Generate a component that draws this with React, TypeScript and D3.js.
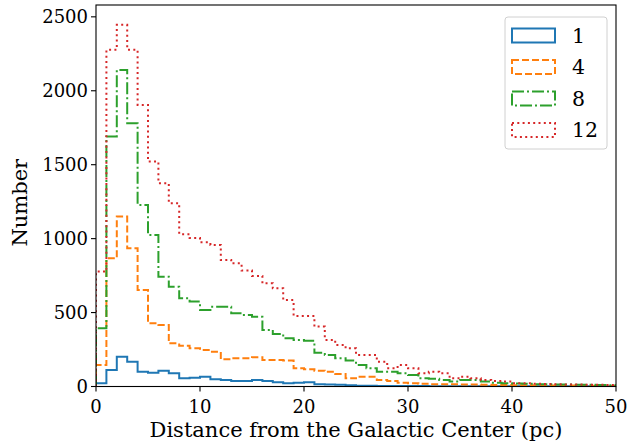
import { useMemo } from "react";
import * as d3 from "d3";

// Bin counts (50 unit-wide bins, 0–50 pc).
const binEdges = d3.range(0, 51);
const seriesNames = ["1", "4", "8", "12"];
const counts1 = [22, 112, 202, 168, 100, 93, 107, 89, 55, 60, 66, 49, 44, 37, 38, 44, 37, 28, 22, 25, 28, 15, 13, 11, 9, 5, 5, 4, 4, 3, 3, 3, 2, 2, 2, 2, 2, 1, 1, 1, 1, 1, 1, 1, 1, 1, 0, 1, 0, 0];
const counts4 = [145, 867, 1149, 935, 653, 428, 416, 292, 275, 258, 247, 235, 184, 191, 191, 198, 179, 179, 175, 123, 116, 107, 100, 85, 55, 66, 66, 44, 37, 26, 22, 19, 16, 16, 15, 14, 13, 12, 10, 10, 9, 8, 7, 7, 6, 6, 5, 5, 4, 4];
const counts8 = [394, 1690, 2141, 1781, 1228, 1025, 743, 675, 597, 574, 518, 540, 540, 495, 484, 472, 382, 355, 326, 315, 310, 229, 213, 191, 175, 145, 123, 100, 100, 89, 78, 55, 52, 44, 33, 44, 44, 33, 26, 22, 20, 18, 16, 15, 14, 13, 12, 11, 10, 9];
const counts12 = [777, 2277, 2446, 2277, 1904, 1521, 1375, 1240, 1030, 1004, 975, 957, 856, 833, 784, 748, 698, 664, 585, 477, 477, 405, 315, 281, 258, 213, 213, 168, 123, 145, 123, 89, 100, 89, 55, 66, 55, 44, 37, 33, 22, 22, 19, 17, 15, 14, 13, 12, 11, 10];
const xTicks = [0, 10, 20, 30, 40, 50];
const yTicks = [0, 500, 1000, 1500, 2000, 2500];

const allCounts = [counts1, counts4, counts8, counts12];
const colors = ["#1f77b4", "#ff7f0e", "#2ca02c", "#d62728"];
const dashes = ["none", "7,3", "12,3,2,3", "2,3.3"];

const W = 630;
const H = 443;
const plot = { left: 96, right: 616, top: 5, bottom: 386.5 };
const FONT = "'DejaVu Serif', serif";

export default function App() {
  const x = useMemo(
    () => d3.scaleLinear().domain([0, 50]).range([plot.left, plot.right]),
    [],
  );
  const y = useMemo(
    () => d3.scaleLinear().domain([0, 2580]).range([plot.bottom, plot.top]),
    [],
  );

  // matplotlib "step" histogram outline: up from 0, across each bin, back down at the end
  const stepPath = (vals: number[]) => {
    const pts: Array<[number, number]> = [[binEdges[0], 0]];
    vals.forEach((v, i) => {
      pts.push([binEdges[i], v]);
      pts.push([binEdges[i + 1], v]);
    });
    pts.push([binEdges[binEdges.length - 1], 0]);
    return d3.line<[number, number]>().x((d) => x(d[0])).y((d) => y(d[1]))(pts) ?? "";
  };

  const legend = { x: 505, y: 17, w: 102, h: 132 };

  return (
    <div style={{ position: "fixed", left: 0, top: 0 }}>
      <svg width={W} height={H} style={{ display: "block", background: "#fff" }}>
        <defs>
          <clipPath id="plot-clip">
            <rect x={plot.left} y={plot.top} width={plot.right - plot.left} height={plot.bottom - plot.top} />
          </clipPath>
        </defs>

        <g clipPath="url(#plot-clip)">
          {allCounts.map((vals, i) => (
            <path
              key={i}
              d={stepPath(vals)}
              fill="none"
              stroke={colors[i]}
              strokeWidth={2}
              strokeDasharray={dashes[i]}
              strokeLinejoin="miter"
            />
          ))}
        </g>

        {/* spines */}
        <rect
          x={plot.left}
          y={plot.top}
          width={plot.right - plot.left}
          height={plot.bottom - plot.top}
          fill="none"
          stroke="#000"
          strokeWidth={1.1}
        />

        {/* x axis */}
        {xTicks.map((t) => (
          <g key={t} transform={`translate(${x(t)},0)`}>
            <line y1={plot.bottom} y2={plot.bottom + 5} stroke="#000" strokeWidth={1.1} />
            <text y={413} textAnchor="middle" fontFamily={FONT} fontSize={18} fill="#000">
              {t}
            </text>
          </g>
        ))}
        <text x={(plot.left + plot.right) / 2} y={437} textAnchor="middle" fontFamily={FONT} fontSize={21} fill="#000">
          Distance from the Galactic Center (pc)
        </text>

        {/* y axis */}
        {yTicks.map((t) => (
          <g key={t} transform={`translate(0,${y(t)})`}>
            <line x1={plot.left - 5} x2={plot.left} stroke="#000" strokeWidth={1.1} />
            <text x={88} dy="0.35em" textAnchor="end" fontFamily={FONT} fontSize={18} fill="#000">
              {t}
            </text>
          </g>
        ))}
        <text
          transform={`translate(27,${(plot.top + plot.bottom) / 2 + 7}) rotate(-90)`}
          textAnchor="middle"
          fontFamily={FONT}
          fontSize={21}
          fill="#000"
        >
          Number
        </text>

        {/* legend */}
        <rect
          x={legend.x}
          y={legend.y}
          width={legend.w}
          height={legend.h}
          rx={3}
          fill="#fff"
          fillOpacity={0.8}
          stroke="#d0d0d0"
          strokeWidth={1}
        />
        {seriesNames.map((name, i) => {
          const cy = 35.5 + i * 31.5;
          return (
            <g key={name}>
              <rect
                x={512}
                y={cy - 7}
                width={43}
                height={14}
                fill="none"
                stroke={colors[i]}
                strokeWidth={2}
                strokeDasharray={dashes[i]}
              />
              <text x={572} y={cy} dy="0.35em" fontFamily={FONT} fontSize={20.5} fill="#000">
                {name}
              </text>
            </g>
          );
        })}
      </svg>
    </div>
  );
}
